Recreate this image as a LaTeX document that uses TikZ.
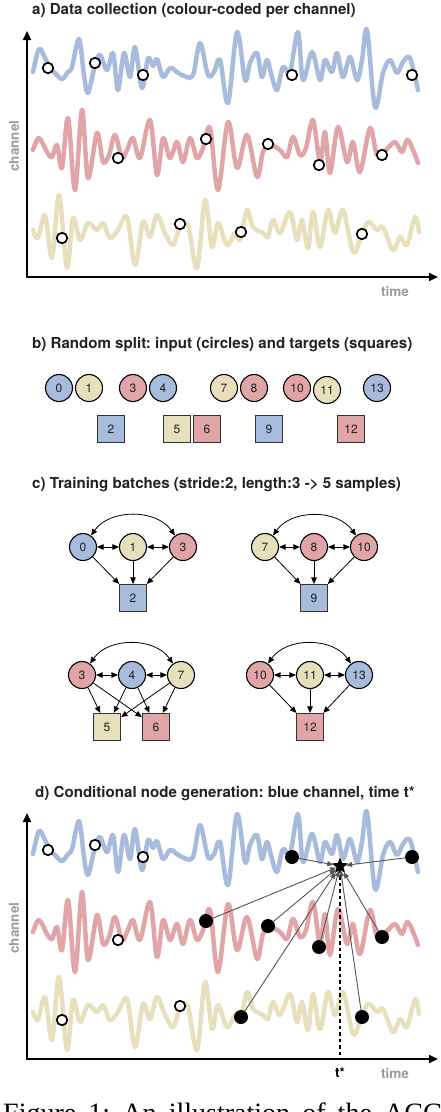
\documentclass[tikz,border=0pt]{standalone}
\usepackage{fontspec}
\setmainfont{Liberation Serif}
\setsansfont{TeX Gyre Heros}
\usetikzlibrary{arrows.meta,shapes.geometric}
\frenchspacing
\definecolor{cblue}{HTML}{A7BBDC}
\definecolor{cred}{HTML}{E2A5A7}
\definecolor{cyel}{HTML}{E8DFBD}
\definecolor{cgray}{HTML}{9A9A9A}
\definecolor{carr}{HTML}{555555}
\definecolor{ctext}{HTML}{222222}
\newcommand\bluesig{\draw[sig,cblue] plot[smooth,tension=0.55] coordinates {(33,72) (39,49) (45,58) (50,68) (55,73) (62,79) (68,72) (72,67) (79,39) (84,75) (88,93) (95,65) (100,55) (107,70) (113,53) (118,90) (124,53) (130,77) (135,47) (142,88) (148,58) (153,66) (157,59) (163,77) (170,68) (177,72) (184,76) (193,75) (200,43) (208,75) (214,72) (220,60) (228,103) (237,32) (245,80) (250,63) (257,53) (262,77) (267,60) (272,77) (277,90) (283,67) (290,72) (298,32) (303,80) (312,52) (320,80) (325,60) (332,72) (337,53) (343,77) (350,57) (357,80) (362,60) (367,30) (375,107) (383,73) (390,60) (397,73) (403,62) (410,58) (418,90)};}
\newcommand\redsig{\draw[sig,cred] plot[smooth,tension=0.55] coordinates {(33,150) (39,138) (47,152) (52,157) (57,145) (62,168) (68,118) (75,190) (82,110) (88,178) (97,133) (103,162) (109,155) (115,135) (122,158) (127,150) (133,138) (140,158) (150,120) (157,175) (163,138) (170,158) (177,142) (183,162) (190,138) (197,158) (203,148) (210,128) (218,190) (228,122) (237,168) (247,135) (257,177) (263,152) (270,145) (280,150) (287,157) (293,137) (300,155) (306,148) (313,120) (320,162) (325,132) (330,173) (338,127) (347,162) (353,142) (360,172) (370,128) (377,155) (386,150) (395,142) (402,152) (408,140) (418,163)};}
\newcommand\yelsig{\draw[sig,cyel] plot[smooth,tension=0.55] coordinates {(33,230) (38,238) (45,215) (52,258) (59,195) (67,268) (73,218) (80,240) (88,223) (97,230) (103,223) (110,238) (118,230) (127,217) (135,265) (143,222) (150,237) (157,215) (165,233) (173,245) (180,227) (188,225) (197,268) (205,200) (212,247) (218,223) (227,245) (235,233) (240,240) (247,210) (253,227) (263,233) (268,237) (273,220) (280,233) (290,212) (297,240) (302,220) (308,248) (313,212) (320,247) (328,210) (335,233) (343,210) (353,252) (360,240) (368,222) (377,230) (383,227) (393,250) (400,237) (407,245) (415,217) (419,232)};}
\begin{document}
\begin{tikzpicture}[x=1pt,y=1pt,
  title/.style={font=\sffamily\bfseries\fontsize{15.1}{17}\selectfont, anchor=base west, inner sep=0, text=ctext},
  sig/.style={line width=4.5pt, line cap=round, line join=round},
  omark/.style={circle, draw=black, line width=1.7pt, fill=white, minimum size=10.5pt, inner sep=0},
  fmark/.style={circle, fill=black, minimum size=14pt, inner sep=0},
  cnode/.style={circle, draw=black, line width=1.1pt, minimum size=27pt, inner sep=0, font=\sffamily\fontsize{12}{12}\selectfont, text=ctext},
  snode/.style={rectangle, draw=black!80, line width=1.1pt, minimum size=27pt, inner sep=0, font=\sffamily\fontsize{12}{12}\selectfont, text=ctext},
  axisline/.style={line width=1.8pt, {Triangle[length=9pt,width=8pt]}-{Triangle[length=9pt,width=8pt]}},
  arr/.style={line width=0.8pt, -{Triangle[length=6.5pt,width=5.5pt]}},
  darr/.style={line width=0.8pt, {Triangle[length=6.5pt,width=5.5pt]}-{Triangle[length=6.5pt,width=5.5pt]}},
  garr/.style={line width=0.9pt, carr, -{Triangle[length=6pt,width=5pt]}},
  axlabel/.style={font=\sffamily\bfseries\fontsize{13.5}{14}\selectfont, text=cgray, inner sep=0}
]
\useasboundingbox (0,0) rectangle (440,-1112);
% titles
\node[title] (ta) at (32,-14) {a) Data collection (colour-coded per channel)};
\node[title] (tb) at (32,-348) {b) Random split: input (circles) and targets (squares)};
\node[title] (tc) at (32,-488) {c) Training batches (stride:2, length:3 -> 5 samples)};
\node[title] (td) at (35,-797) {d) Conditional node generation: blue channel, time t*};
% ---------- panel a
\begin{scope}[yscale=-1]
\bluesig \redsig \yelsig
\node[omark] (ab1) at (48,68) {};
\node[omark] (ab2) at (95,63) {};
\node[omark] (ab3) at (143,75) {};
\node[omark] (ab4) at (292,75) {};
\node[omark] (ab5) at (412,75) {};
\node[omark] (ar1) at (118,158) {};
\node[omark] (ar2) at (206,139) {};
\node[omark] (ar3) at (268,144) {};
\node[omark] (ar4) at (319,165) {};
\node[omark] (ar5) at (382,155) {};
\node[omark] (ay1) at (62,238) {};
\node[omark] (ay2) at (180,224) {};
\node[omark] (ay3) at (241,232) {};
\node[omark] (ay4) at (362,234) {};
\end{scope}
\coordinate (aO) at (27,-277);
\coordinate (aY) at (27,-31);
\coordinate (aX) at (438,-277);
\draw[axisline] (aY) -- (aO) -- (aX);
\node[axlabel, rotate=90] (alc) at (14,-146) {channel};
\node[axlabel] (alt) at (395,-291.5) {time};
% ---------- panel b
\node[cnode, fill=cblue] (b0) at (59,-388) {0};
\node[cnode, fill=cyel] (b1) at (89,-388) {1};
\node[cnode, fill=cred] (b3) at (133,-388) {3};
\node[cnode, fill=cblue] (b4) at (163,-388) {4};
\node[cnode, fill=cyel] (b7) at (224,-388) {7};
\node[cnode, fill=cred] (b8) at (254,-388) {8};
\node[cnode, fill=cred] (b10) at (297,-388) {10};
\node[cnode, fill=cyel] (b11) at (327,-390) {11};
\node[cnode, fill=cblue] (b13) at (377,-388) {13};
\node[snode, fill=cblue] (b2) at (111,-429) {2};
\node[snode, fill=cyel] (b5) at (177,-429) {5};
\node[snode, fill=cred] (b6) at (207,-429) {6};
\node[snode, fill=cblue] (b9) at (269,-429) {9};
\node[snode, fill=cred] (b12) at (351,-429) {12};
% ---------- panel c
% batch 1
\node[cnode, fill=cblue] (p0) at (83,-547) {0};
\node[cnode, fill=cyel] (p1) at (133,-547) {1};
\node[cnode, fill=cred] (p3) at (183,-547) {3};
\node[snode, fill=cblue] (p2) at (133,-598) {2};
\draw[darr] (p0) -- (p1);
\draw[darr] (p1) -- (p3);
\draw[darr] (p0) to[out=55,in=125] (p3);
\draw[arr] (p0) -- (p2);
\draw[arr] (p1) -- (p2);
\draw[arr] (p3) -- (p2);
% batch 2
\node[cnode, fill=cyel] (q7) at (265,-547) {7};
\node[cnode, fill=cred] (q8) at (314,-547) {8};
\node[cnode, fill=cred] (q10) at (364,-547) {10};
\node[snode, fill=cblue] (q9) at (314,-598) {9};
\draw[darr] (q7) -- (q8);
\draw[darr] (q8) -- (q10);
\draw[darr] (q7) to[out=55,in=125] (q10);
\draw[arr] (q7) -- (q9);
\draw[arr] (q8) -- (q9);
\draw[arr] (q10) -- (q9);
% batch 3
\node[cnode, fill=cred] (r3) at (82,-675) {3};
\node[cnode, fill=cblue] (r4) at (132,-675) {4};
\node[cnode, fill=cyel] (r7) at (181,-675) {7};
\node[snode, fill=cyel] (r5) at (107,-727) {5};
\node[snode, fill=cred] (r6) at (156,-727) {6};
\draw[darr] (r3) -- (r4);
\draw[darr] (r4) -- (r7);
\draw[darr] (r3) to[out=55,in=125] (r7);
\draw[arr] (r3) -- (r5);
\draw[arr] (r3) -- (r6);
\draw[arr] (r4) -- (r5);
\draw[arr] (r4) -- (r6);
\draw[arr] (r7) -- (r5);
\draw[arr] (r7) -- (r6);
% batch 4
\node[cnode, fill=cred] (s10) at (260,-675) {10};
\node[cnode, fill=cyel] (s11) at (310,-675) {11};
\node[cnode, fill=cblue] (s13) at (359,-675) {13};
\node[snode, fill=cred] (s12) at (310,-727) {12};
\draw[darr] (s10) -- (s11);
\draw[darr] (s11) -- (s13);
\draw[darr] (s10) to[out=55,in=125] (s13);
\draw[arr] (s10) -- (s12);
\draw[arr] (s11) -- (s12);
\draw[arr] (s13) -- (s12);
% ---------- panel d
\begin{scope}[yshift=-782pt,yscale=-1]
\bluesig \redsig \yelsig
\node[omark] (db1) at (48,68) {};
\node[omark] (db2) at (95,63) {};
\node[omark] (db3) at (143,75) {};
\node[omark] (dr1) at (118,158) {};
\node[omark] (dy1) at (62,238) {};
\node[omark] (dy2) at (180,224) {};
\node[fmark] (fb1) at (292,75) {};
\node[fmark] (fb2) at (412,75) {};
\node[fmark] (fr1) at (206,139) {};
\node[fmark] (fr2) at (268,144) {};
\node[fmark] (fr3) at (319,165) {};
\node[fmark] (fr4) at (382,155) {};
\node[fmark] (fy1) at (241,235) {};
\node[fmark] (fy2) at (362,235) {};
\node[star, star points=5, star point ratio=2.3, fill=black, minimum size=17pt, inner sep=0] (star) at (340,84) {};
\end{scope}
\coordinate (dO) at (27,-1059);
\coordinate (dY) at (27,-813);
\coordinate (dX) at (438,-1059);
\coordinate (tbase) at (340,-1059);
\draw[line width=2.2pt, dash pattern=on 3.5pt off 3pt] (star.south) -- (tbase);
\draw[axisline] (dY) -- (dO) -- (dX);
\foreach \m in {fb1,fb2,fr1,fr2,fr3,fr4,fy1,fy2} \draw[garr] (\m) -- (star);
\node[axlabel, rotate=90] (dlc) at (14,-928) {channel};
\node[axlabel] (dlt) at (395,-1074) {time};
\node[font=\sffamily\bfseries\fontsize{13.5}{14}\selectfont, inner sep=0] (tst) at (340,-1073) {t*};
% caption (cut by page edge, as in the reference)
\node[anchor=base west, inner sep=0, font=\fontsize{28}{30}\selectfont] (cap) at (3,-1122) {\makebox[440pt][s]{Figure 1: An illustration of the ACG}};
\end{tikzpicture}
\end{document}
